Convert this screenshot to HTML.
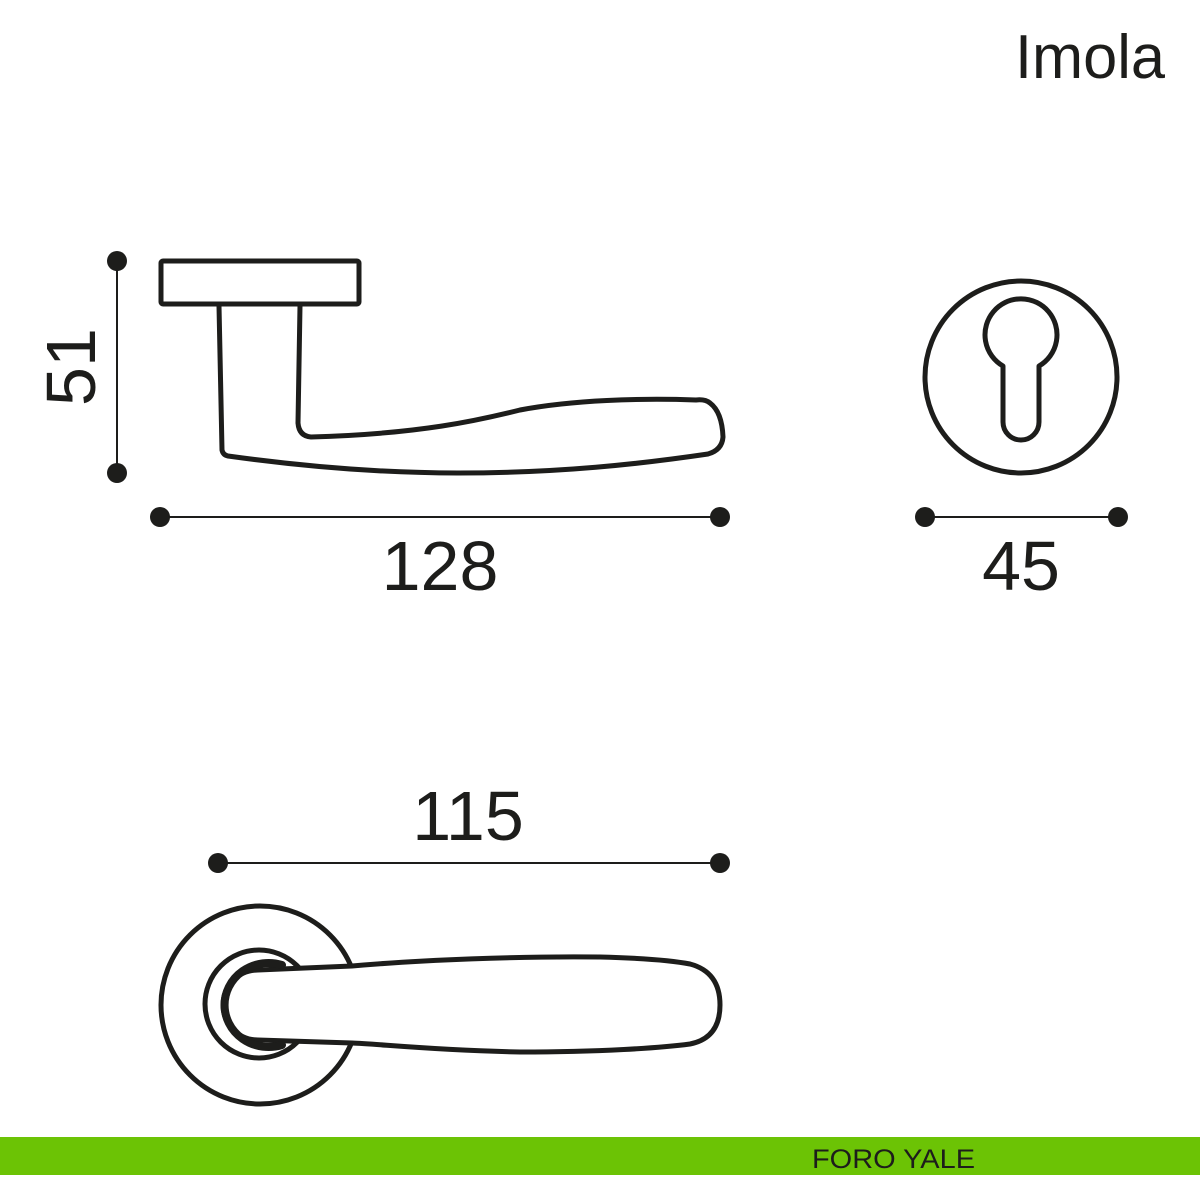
<!DOCTYPE html>
<html><head><meta charset="utf-8"><style>
html,body{margin:0;padding:0;background:#fff;}
svg{display:block;}
text{font-family:"Liberation Sans",sans-serif;fill:#1d1d1b;}
</style></head><body>
<svg width="1200" height="1200" viewBox="0 0 1200 1200" xmlns="http://www.w3.org/2000/svg">
<text x="1165" y="78" font-size="62" text-anchor="end" textLength="150" lengthAdjust="spacingAndGlyphs">Imola</text>

<g fill="none" stroke="#1d1d1b" stroke-width="5" stroke-linejoin="round" stroke-linecap="round">
  <rect x="161" y="261" width="198" height="43" rx="2"/>
  <path d="M219,306 L222,450 Q223,455 228,456 C300,466 380,473 458,473 C560,473 640,464 708,454 Q722,450 723,437 Q722,412 710,403 Q705,399 696,400 C640,398 573,400 520,410 C480,420 420,434 311,437 Q299,436 298,423 L300,306"/>
  <circle cx="1021" cy="377" r="96"/>
  <path d="M1003,366 A36,36 0 1 1 1039,366 L1039,422 A18,18 0 0 1 1003,422 Z"/>
  <circle cx="260" cy="1005" r="99"/>
  <circle cx="259" cy="1004" r="54"/>
  <path d="M258,970 L352,966 C420,960 520,956 600,957 C640,958 670,960 690,964 Q720,972 720,1005 Q720,1038 690,1044 C660,1048 600,1052 520,1052 C430,1050 380,1044 352,1043 L258,1040 A35,35 0 0 1 258,970 Z" fill="#fff"/>
  <path d="M282,965 A44,42 0 1 0 282,1045" stroke-width="8"/>
</g>

<g stroke="#1d1d1b" stroke-width="2">
  <line x1="117" y1="261" x2="117" y2="473"/>
  <line x1="160" y1="517" x2="720" y2="517"/>
  <line x1="925" y1="517" x2="1118" y2="517"/>
  <line x1="218" y1="863" x2="720" y2="863"/>
</g>
<g fill="#1d1d1b">
  <circle cx="117" cy="261" r="10"/><circle cx="117" cy="473" r="10"/>
  <circle cx="160" cy="517" r="10"/><circle cx="720" cy="517" r="10"/>
  <circle cx="925" cy="517" r="10"/><circle cx="1118" cy="517" r="10"/>
  <circle cx="218" cy="863" r="10"/><circle cx="720" cy="863" r="10"/>
</g>

<text x="440" y="590" font-size="70" text-anchor="middle">128</text>
<text x="1021" y="590" font-size="70" text-anchor="middle">45</text>
<text x="468" y="840" font-size="70" text-anchor="middle">115</text>
<text transform="translate(95,367) rotate(-90)" font-size="70" text-anchor="middle">51</text>

<rect x="0" y="1137" width="1200" height="38" fill="#6cc305"/>
<text x="812" y="1168" font-size="27" textLength="163" lengthAdjust="spacingAndGlyphs">FORO YALE</text>
</svg>
</body></html>
